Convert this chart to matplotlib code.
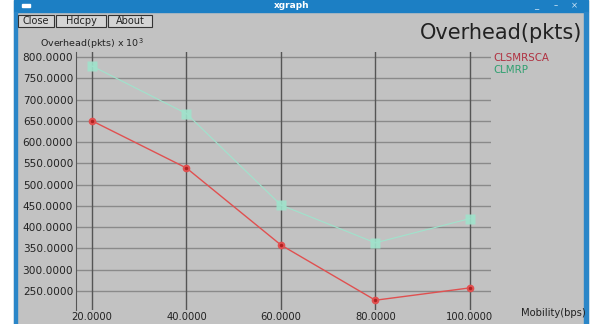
"""
xgraph-style overhead plot: CLSMRSCA vs CLMRP over mobility.
"""

import matplotlib
matplotlib.use("Agg")
import matplotlib.pyplot as plt
from matplotlib.patches import Rectangle

# data
mobility = [20, 40, 60, 80, 100]
clsmrsca = [650, 539, 358, 228, 257]
clmrp = [779, 667, 452, 363, 420]
series_names = ["CLSMRSCA", "CLMRP"]
y_ticks = [250, 300, 350, 400, 450, 500, 550, 600, 650, 700, 750, 800]

W, H = 591, 324
BG = "#c2c2c2"
RED = "#e05050"
GREEN = "#9fe3cc"

fig = plt.figure(figsize=(W / 100, H / 100), dpi=100)
fig.patch.set_facecolor("white")


def px(x, y, w, h):
    # pixel box (top-left origin) -> figure fraction rect
    return [x / W, 1 - (y + h) / H, w / W, h / H]


# window chrome
chrome = fig.add_axes([0, 0, 1, 1])
chrome.set_xlim(0, W)
chrome.set_ylim(H, 0)
chrome.axis("off")
chrome.add_patch(Rectangle((14, 0), 574, 324, color=BG))
chrome.add_patch(Rectangle((14, 0), 574, 12, color="#1c7fc4"))
chrome.add_patch(Rectangle((14, 12), 3, 312, color="#2a86c8"))
chrome.add_patch(Rectangle((584, 12), 4, 312, color="#2a86c8"))
chrome.text(292, 6, "xgraph", color="white", fontsize=6.5, fontweight="bold",
            ha="center", va="center")
chrome.add_patch(Rectangle((22, 4), 8, 3, color="white"))
for cx, mark in [(536, "_"), (556, "\u2013"), (574, "\u00d7")]:
    chrome.text(cx, 6, mark, color="#cfe6f7", fontsize=6, ha="center", va="center")

for bx, bw, label in [(18, 36, "Close"), (56, 50, "Hdcpy"), (108, 44, "About")]:
    chrome.add_patch(Rectangle((bx, 15), bw, 12, facecolor="#d4d4d4",
                               edgecolor="#333333", lw=0.8))
    chrome.text(bx + bw / 2, 21.5, label, fontsize=7, ha="center", va="center",
                color="#222222")

chrome.text(40, 44, "Overhead(pkts) x 10$^3$", fontsize=6.8, va="center",
            color="#222222")
chrome.text(582, 33, "Overhead(pkts)", fontsize=15, ha="right", va="center",
            color="#222222")
chrome.text(586, 313, "Mobility(bps)", fontsize=7.2, ha="right", va="center",
            color="#222222")

# plot area
ax = fig.add_axes(px(76, 52, 415, 258))
ax.set_facecolor(BG)
ax.set_xlim(16.6, 104.5)
ax.set_ylim(205, 812)

for v in y_ticks:
    ax.axhline(v, color="#8a8a8a", lw=1.0, zorder=1)
for v in mobility:
    ax.axvline(v, color="#555555", lw=1.0, zorder=1)

ax.plot(mobility, clmrp, color=GREEN, lw=0.8, zorder=2)
ax.plot(mobility, clmrp, "s", color=GREEN, ms=7, mec="none", alpha=0.9, zorder=3)
ax.plot(mobility, clsmrsca, color=RED, lw=1.0, zorder=2)
ax.plot(mobility, clsmrsca, "o", color="#b02020", mec=RED, mew=1.5, ms=4, zorder=3)

ax.set_yticks(y_ticks)
ax.set_yticklabels([f"{v:.4f}" for v in y_ticks])
ax.set_xticks(mobility)
ax.set_xticklabels([f"{v:.4f}" for v in mobility])
ax.tick_params(axis="y", length=0, pad=2, labelsize=7.6, colors="#222222")
ax.tick_params(axis="x", length=0, pad=1.5, labelsize=7.2, colors="#222222")
for s in ax.spines.values():
    s.set_visible(False)
ax.spines["left"].set_visible(True)
ax.spines["left"].set_color("#555555")

# legend text in xgraph style
chrome.text(493, 58, series_names[0], fontsize=7.4, color="#b03040", va="center")
chrome.text(493, 70, series_names[1], fontsize=7.4, color="#30a070", va="center")

fig.savefig("out.png", dpi=100, facecolor=fig.get_facecolor())
